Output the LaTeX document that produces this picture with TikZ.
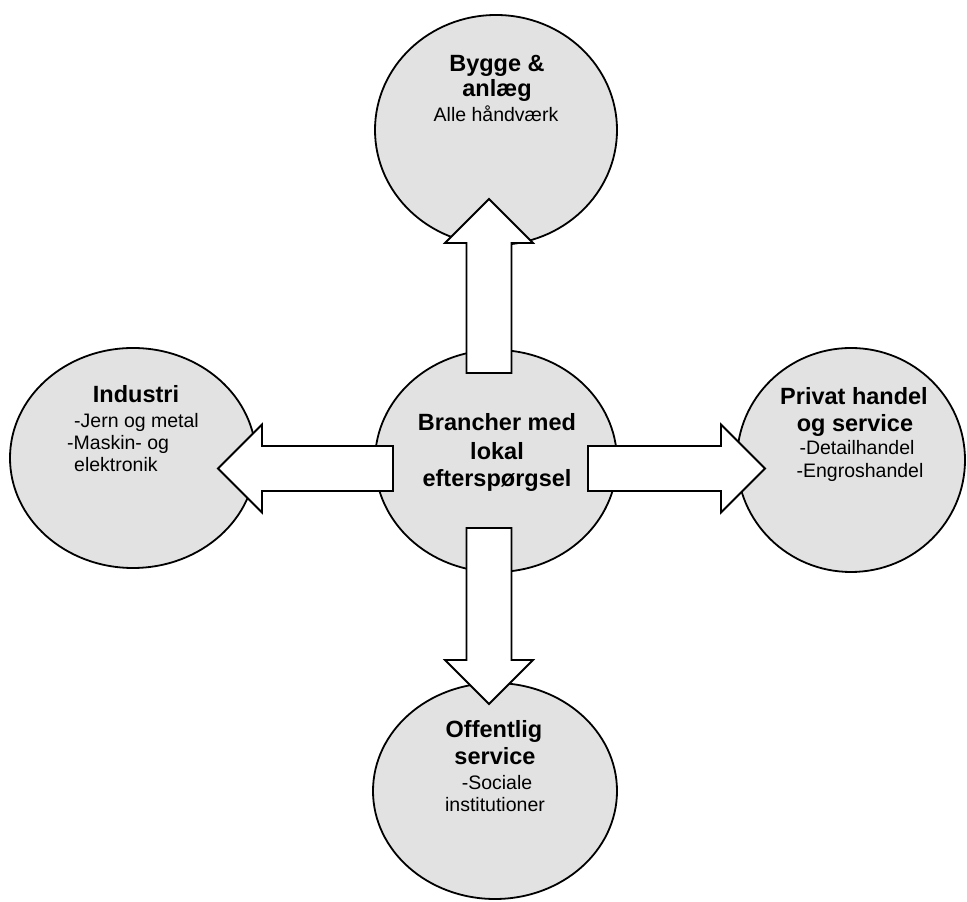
\documentclass[tikz,border=0pt]{standalone}
\usepackage{fontspec}
\setmainfont{Liberation Sans}
\usetikzlibrary{shapes.geometric,calc}
\definecolor{circfill}{RGB}{226,226,226}
\tikzset{
  bubble/.style={ellipse, draw=black, line width=1.8pt, fill=circfill, inner sep=0pt},
  barrow/.style={draw=black, line width=1.8pt, fill=white, line join=miter},
  headtxt/.style={inner sep=0pt, font=\fontsize{23.5}{26}\selectfont\bfseries},
  subtxt/.style={inner sep=0pt, font=\fontsize{19.5}{23}\selectfont},
}
\newcommand\blockarrow[2]{%
  \draw[barrow] let \p1=(#1), \p2=(#2),
    \n1={atan2(\y2-\y1,\x2-\x1)}, \n2={veclen(\x2-\x1,\y2-\y1)} in
    ([shift={(\p1)},rotate=\n1]0,-22.5) --
    ([shift={(\p1)},rotate=\n1]\n2-44,-22.5) --
    ([shift={(\p1)},rotate=\n1]\n2-44,-44) --
    ([shift={(\p1)},rotate=\n1]\n2,0) --
    ([shift={(\p1)},rotate=\n1]\n2-44,44) --
    ([shift={(\p1)},rotate=\n1]\n2-44,22.5) --
    ([shift={(\p1)},rotate=\n1]0,22.5) -- cycle;}
\begin{document}
\begin{tikzpicture}[x=1pt,y=1pt]
\useasboundingbox (0,0) rectangle (967,902);
% circles
\node[bubble, minimum width=242pt, minimum height=230pt] (top) at (496,772) {};
\node[bubble, minimum width=246pt, minimum height=220pt] (left) at (133,444) {};
\node[bubble, minimum width=228pt, minimum height=224pt] (right) at (851,442) {};
\node[bubble, minimum width=244pt, minimum height=216pt] (bottom) at (495,111) {};
\node[bubble, minimum width=242pt, minimum height=222pt] (center) at (496,441) {};
% arrow end points
\coordinate (upS) at (489,529);
\coordinate (upT) at (489,703);
\coordinate (dnS) at (489,374);
\coordinate (dnT) at (489,198);
\coordinate (lfS) at (393,433.5);
\coordinate (lfT) at (218,433.5);
\coordinate (rtS) at (588,433.5);
\coordinate (rtT) at (765,433.5);
\blockarrow{upS}{upT}
\blockarrow{dnS}{dnT}
\blockarrow{lfS}{lfT}
\blockarrow{rtS}{rtT}
% texts: top
\node[headtxt, anchor=base] (t1) at (497,830) {Bygge \&};
\node[headtxt, anchor=base] (t2) at (497,805) {anlæg};
\node[subtxt, anchor=base] (t3) at (496,780) {Alle håndværk};
% left
\node[headtxt, anchor=base] (l1) at (136,499) {Industri};
\node[subtxt, anchor=base west] (l2) at (74,474) {-Jern og metal};
\node[subtxt, anchor=base west] (l3) at (67,452) {-Maskin- og};
\node[subtxt, anchor=base west] (l4) at (74,430) {elektronik};
% center
\node[headtxt, anchor=base] (c1) at (497,471) {Brancher med};
\node[headtxt, anchor=base] (c2) at (497,442) {lokal};
\node[headtxt, anchor=base] (c3) at (497,415) {efterspørgsel};
% right
\node[headtxt, anchor=base] (r1) at (854,497) {Privat handel};
\node[headtxt, anchor=base] (r2) at (855,470) {og service};
\node[subtxt, anchor=base] (r3) at (857,447) {-Detailhandel};
\node[subtxt, anchor=base] (r4) at (860,424) {-Engroshandel};
% bottom
\node[headtxt, anchor=base] (b1) at (494,164) {Offentlig};
\node[headtxt, anchor=base] (b2) at (495,137) {service};
\node[subtxt, anchor=base] (b3) at (497,112) {-Sociale};
\node[subtxt, anchor=base] (b4) at (495,90) {institutioner};
\end{tikzpicture}
\end{document}
